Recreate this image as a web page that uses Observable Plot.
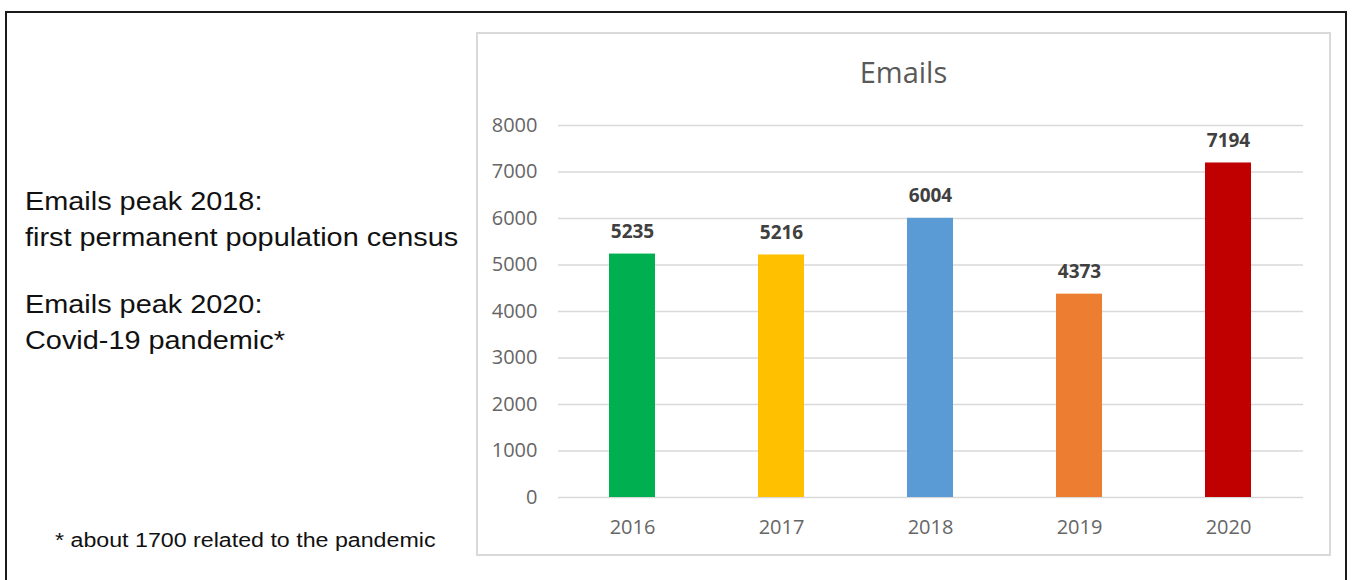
<!DOCTYPE html>
<html>
<head>
<meta charset="utf-8">
<script src="https://cdn.jsdelivr.net/npm/d3@7"></script>
<script src="https://cdn.jsdelivr.net/npm/@observablehq/plot@0.6"></script>
<style>
  html, body { margin: 0; padding: 0; background: #fff; width: 1357px; height: 580px; overflow: hidden; }
  #frame { position: absolute; left: 5px; top: 11px; width: 1342px; height: 600px; border: 2px solid #1a1a1a; box-sizing: border-box; }
  .note { position: absolute; font-family: "Liberation Sans", Arial, sans-serif; color: #111; white-space: nowrap; transform-origin: left top; }
  #box { position: absolute; left: 476px; top: 32px; width: 855px; height: 524px; border: 2px solid #d9d9d9; box-sizing: border-box; }
  #chart { position: absolute; left: 476px; top: 32px; }
  #title { position: absolute; left: 476px; top: 32px; width: 855px; text-align: center; font-family: "Open Sans", sans-serif; font-size: 29px; color: #595959; line-height: 1; padding-top: 25px; }
</style>
</head>
<body>
<div id="frame"></div>
<div class="note" style="left:25px; top:183px; font-size:26px; line-height:36px; transform: scaleX(1.11);">Emails peak 2018:<br>first permanent population census</div>
<div class="note" style="left:25px; top:286px; font-size:26px; line-height:36px; transform: scaleX(1.11);">Emails peak 2020:<br>Covid-19 pandemic*</div>
<div class="note" style="left:55px; top:530px; font-size:20px; line-height:20px; transform: scaleX(1.16);">* about 1700 related to the pandemic</div>
<div id="box"></div>
<div id="title">Emails</div>
<div id="chart"></div>
<script>
const years = ["2016", "2017", "2018", "2019", "2020"];
const emails = [5235, 5216, 6004, 4373, 7194];
const colors = ["#00b050", "#ffc000", "#5b9bd5", "#ed7d31", "#c00000"];
const yTicks = [0, 1000, 2000, 3000, 4000, 5000, 6000, 7000, 8000];

const data = years.map((y, i) => ({year: y, value: emails[i]}));

const chart = Plot.plot({
  width: 855,
  height: 524,
  marginLeft: 82,
  marginRight: 28,
  marginTop: 93,
  marginBottom: 59,
  style: {fontFamily: "'Open Sans', sans-serif", fontSize: "20px", color: "#666", background: "transparent", overflow: "visible"},
  x: {domain: years, paddingInner: 0.69, paddingOuter: 0.345, label: null},
  y: {domain: [0, 8000], label: null},
  color: {domain: years, range: colors},
  marks: [
    Plot.ruleY(yTicks, {stroke: "#d9d9d9", strokeWidth: 1.5}),
    Plot.axisY({ticks: yTicks, tickSize: 0, tickPadding: 21, fill: "#666", fontSize: 20, label: null, tickFormat: d => String(d)}),
    Plot.axisX({tickSize: 0, tickPadding: 22, fill: "#666", fontSize: 20, label: null}),
    Plot.barY(data, {x: "year", y: "value", fill: "year"}),
    Plot.text(data, {x: "year", y: "value", text: d => String(d.value), lineAnchor: "bottom", dy: -16, fontWeight: "bold", fontSize: 19, fill: "#404040"})
  ]
});
document.getElementById("chart").appendChild(chart);
</script>
</body>
</html>
